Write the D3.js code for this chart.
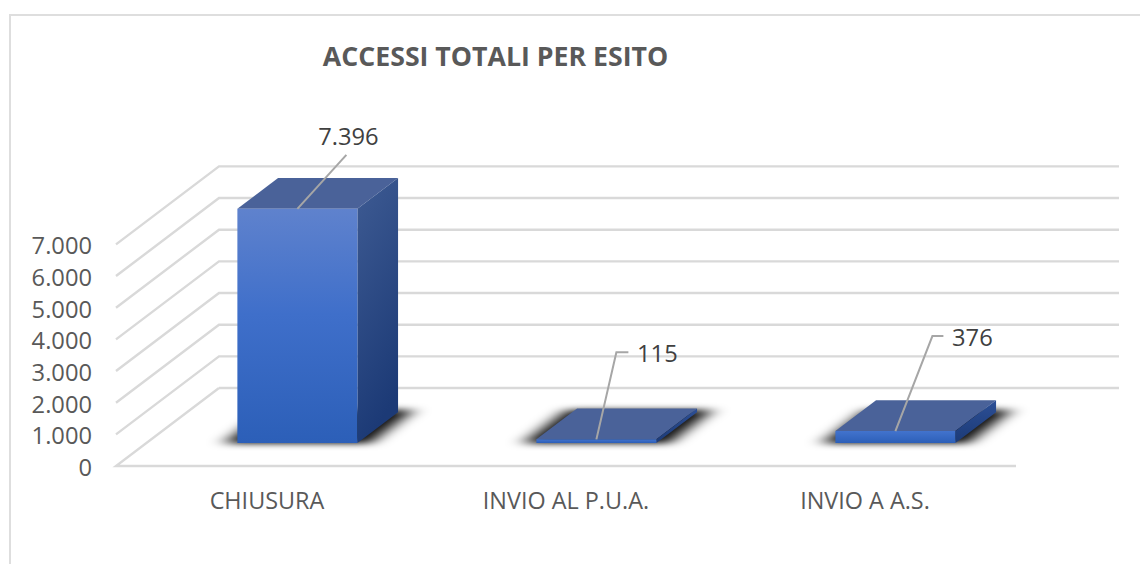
<!DOCTYPE html>
<html><head><meta charset="utf-8">
<script src="https://cdn.jsdelivr.net/npm/d3@7/dist/d3.min.js"></script>
<style>html,body{margin:0;padding:0;background:#fff}svg{display:block}text{font-family:"Open Sans",sans-serif}</style>
</head><body><svg id="c" width="1140" height="564"></svg>
<script>
const chartTitle = "ACCESSI TOTALI PER ESITO";
const categories = ["CHIUSURA", "INVIO AL P.U.A.", "INVIO A A.S."];
const values = [7396, 115, 376];
const valueLabels = ["7.396", "115", "376"];
const yTicks = [0, 1000, 2000, 3000, 4000, 5000, 6000, 7000];

const svg = d3.select("#c");
const W = 1140, H = 564;
const left = 116, right = 1016, floorY = 466;
const depthX = 103, depthY = -78;      // full depth of the floor
const barD0 = 0.295, barD1 = 0.69;     // bar front/back position in depth

const x = d3.scaleBand().domain(categories).range([117.5, 1014.5]).paddingInner(0.5987).paddingOuter(0.2993);
const y = d3.scaleLinear().domain([0, 7000]).range([0, 221.6]);
// oblique projection: (horizontal, value, depth 0..1) -> screen
const P = (px, v, d) => [px + d * depthX, floorY - y(v) + d * depthY];
const poly = pts => pts.map(p => p.join(",")).join(" ");

const defs = svg.append("defs");
function lin(id, x1, y1, x2, y2, stops) {
  const g = defs.append("linearGradient").attr("id", id)
    .attr("x1", x1).attr("y1", y1).attr("x2", x2).attr("y2", y2);
  stops.forEach(s => g.append("stop").attr("offset", s[0]).attr("stop-color", s[1]));
}
lin("frontTall", 0, 0, 0, 1, [[0, "#5f82cd"], [0.45, "#3f6fca"], [1, "#2c5fb8"]]);
lin("frontLow", 0, 0, 0, 1, [[0, "#4273cd"], [1, "#2c5fb8"]]);
lin("sideTall", 0, 0, 0.25, 1, [[0, "#3e5b93"], [1, "#1c3a76"]]);
lin("sideLow", 0, 0, 0, 1, [[0, "#2c4f96"], [1, "#1c3a76"]]);
const blur = defs.append("filter").attr("id", "soft")
  .attr("x", "-30%").attr("y", "-80%").attr("width", "160%").attr("height", "260%");
blur.append("feGaussianBlur").attr("stdDeviation", "9 3");

// frame
svg.append("path").attr("d", `M10,${H + 2}V15H${W + 2}`)
  .attr("fill", "none").attr("stroke", "#dedede").attr("stroke-width", 2);

// title
svg.append("text").attr("x", 495.5).attr("y", 66).attr("text-anchor", "middle")
  .attr("font-size", 26.7).attr("font-weight", 700).attr("fill", "#595959").text(chartTitle);

// gridlines (side wall + back wall)
svg.append("g").selectAll("polyline").data(yTicks).join("polyline")
  .attr("fill", "none").attr("stroke", "#d9d9d9").attr("stroke-width", 2.4)
  .attr("points", t => poly(t === 0
    ? [P(right, 0, 0), P(left, 0, 0), P(left, 0, 1)]
    : [P(left, t, 0), P(left, t, 1), P(right, t, 1)]));
svg.append("polyline").attr("fill", "none").attr("stroke", "#d9d9d9").attr("stroke-width", 2.4)
  .attr("points", poly([P(left, 0, 1), P(right, 0, 1)]));

// y labels
svg.append("g").selectAll("text").data(yTicks).join("text")
  .attr("x", 92).attr("y", t => P(left, t, 0)[1] + 10)
  .attr("text-anchor", "end").attr("font-size", 23.7).attr("fill", "#595959")
  .text(t => d3.format(",")(t).replace(/,/g, "."));

// category labels
svg.append("g").selectAll("text").data(categories).join("text")
  .attr("x", c => x(c) + x.bandwidth() / 2).attr("y", 509)
  .attr("text-anchor", "middle").attr("font-size", 23.4).attr("fill", "#595959").text(c => c);

// shadows on the floor
svg.append("g").selectAll("polygon").data(categories).join("polygon")
  .attr("fill", "#000").attr("fill-opacity", 0.95).attr("filter", "url(#soft)")
  .attr("points", c => {
    const a = x(c), b = a + x.bandwidth();
    return poly([P(a - 13, 0, barD0 - 0.005), P(b + 13, 0, barD0 - 0.005), P(b + 13, 0, barD1 + 0.03), P(a - 13, 0, barD1 + 0.03)]);
  });

// bars
const bars = svg.append("g").selectAll("g").data(categories).join("g");
bars.append("polygon").attr("fill", "#4a6299")
  .attr("points", (c, i) => {
    const a = x(c), b = a + x.bandwidth(), v = values[i];
    return poly([P(a, v, barD0), P(b, v, barD0), P(b, v, barD1), P(a, v, barD1)]);
  });
bars.append("polygon").attr("fill", (c, i) => values[i] > 1000 ? "url(#sideTall)" : "url(#sideLow)")
  .attr("points", (c, i) => {
    const b = x(c) + x.bandwidth(), v = values[i];
    return poly([P(b, 0, barD0), P(b, v, barD0), P(b, v, barD1), P(b, 0, barD1)]);
  });
bars.append("polygon").attr("fill", (c, i) => values[i] > 1000 ? "url(#frontTall)" : "url(#frontLow)")
  .attr("points", (c, i) => {
    const a = x(c), b = a + x.bandwidth(), v = values[i];
    return poly([P(a, 0, barD0), P(b, 0, barD0), P(b, v, barD0), P(a, v, barD0)]);
  });

// leader lines and value labels
const leaderOffsets = [[[49, -54]], [[20, -87], [32, -87]], [[37, -95], [48, -95]]];
const labelOffsets = [[51, -64], [61, -77], [77, -85]];
svg.append("g").selectAll("polyline").data(categories).join("polyline")
  .attr("fill", "none").attr("stroke", "#a6a6a6").attr("stroke-width", 2)
  .attr("points", (c, i) => {
    const s = P(x(c) + x.bandwidth() / 2, values[i], barD0);
    return poly([s, ...leaderOffsets[i].map(o => [s[0] + o[0], s[1] + o[1]])]);
  });
svg.append("g").selectAll("text").data(categories).join("text")
  .attr("x", (c, i) => P(x(c) + x.bandwidth() / 2, values[i], barD0)[0] + labelOffsets[i][0])
  .attr("y", (c, i) => P(x(c) + x.bandwidth() / 2, values[i], barD0)[1] + labelOffsets[i][1])
  .attr("text-anchor", "middle").attr("font-size", 23.7).attr("fill", "#404040")
  .text((c, i) => valueLabels[i]);
</script></body></html>
